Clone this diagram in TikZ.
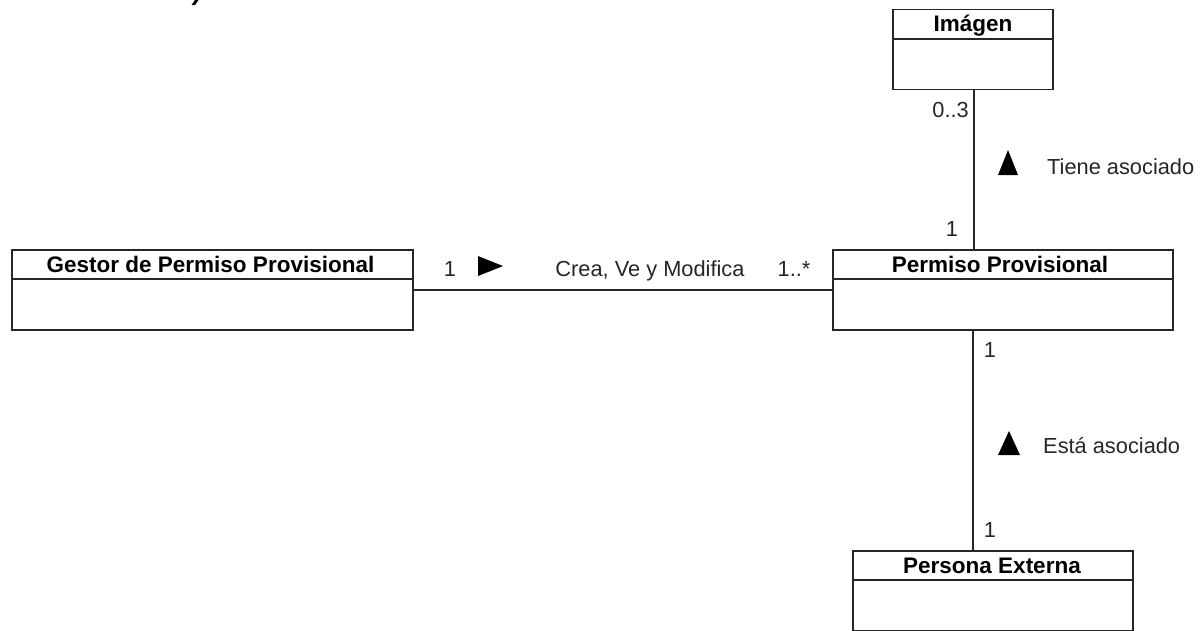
\documentclass[tikz,border=0pt]{standalone}
\usepackage{fontspec}
\setmainfont{Liberation Sans}
\usetikzlibrary{calc}
\begin{document}
\begin{tikzpicture}[x=1pt,y=-1pt,
  classbox/.style={draw=black!85, line width=1.6pt, fill=white, inner sep=0pt},
  classname/.style={font=\fontsize{22.5}{26}\selectfont\bfseries, inner sep=0pt, anchor=base},
  lbl/.style={font=\fontsize{21.8}{26}\selectfont, inner sep=0pt, anchor=base, text=black!85},
  assoc/.style={draw=black!85, line width=1.6pt},
  dirmark/.style={fill=black}
]
\useasboundingbox (0,0) rectangle (1202,630);

% class boxes (80 high, 30-high name compartment)
\node[classbox, minimum width=160pt, minimum height=80pt] (imagen) at (973,49.5) {};
\node[classbox, minimum width=401pt, minimum height=80pt] (gestor) at (212.5,290) {};
\node[classbox, minimum width=340pt, minimum height=80pt] (permiso) at (1003,290) {};
\node[classbox, minimum width=280pt, minimum height=80pt] (persona) at (993,591) {};

% name compartments
\foreach \c in {imagen,gestor,permiso,persona}{
  \draw[assoc] ($(\c.north west)+(0,30)$) -- ($(\c.north east)+(0,30)$);
}
\node[classname] (imagenname) at ($(imagen.north)+(0,23)$) {Imágen};
\node[classname] (gestorname) at ($(gestor.north)+(-2,23)$) {Gestor de Permiso Provisional};
\node[classname] (permisoname) at ($(permiso.north)+(-3,23)$) {Permiso Provisional};
\node[classname] (personaname) at ($(persona.north)+(-1,23)$) {Persona Externa};

% associations
\draw[assoc] (gestor.east) -- (permiso.west);
\draw[assoc] ([xshift=1pt]imagen.south) -- ([xshift=1pt]imagen.south |- permiso.north);
\draw[assoc] (imagen.south |- permiso.south) -- (imagen.south |- persona.north);

% multiplicities and role names
\node[lbl, anchor=base east] (m1) at (969,117) {0..3};
\node[lbl] (m2) at (952,236) {1};
\node[lbl] (m3) at (450,276) {1};
\node[lbl] (m4) at (794,276) {1..*};
\node[lbl] (m5) at (990,357) {1};
\node[lbl] (m6) at (990,537) {1};
\node[lbl] (crea) at (650,276) {Crea, Ve y Modifica};
\node[lbl, anchor=base west] (tiene) at (1047,174) {Tiene asociado};
\node[lbl, anchor=base west] (esta) at (1043,453) {Está asociado};

% reading-direction arrows
\fill[dirmark] (478,256) -- (503,266) -- (478,276) -- cycle;
\fill[dirmark] (998,175) -- (1008,150) -- (1018,175) -- cycle;
\fill[dirmark] (998,455) -- (1009,431) -- (1020,455) -- cycle;

% clipped glyph at the top edge
\fill[black] (191.5,5) -- (195,5) -- (198.5,0) -- (195,0) -- cycle;
\end{tikzpicture}
\end{document}
